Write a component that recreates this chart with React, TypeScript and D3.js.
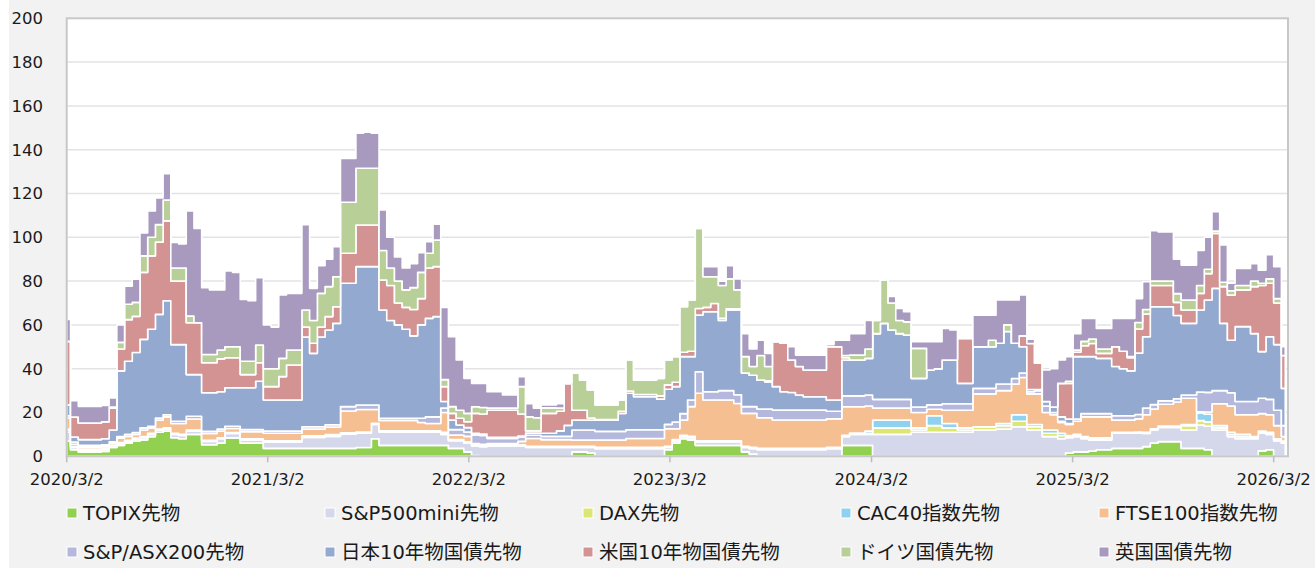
import React, { useEffect, useRef } from "react";
import * as d3 from "d3";

// biweekly observations starting 2020/3/2
const startDate = new Date(2020, 2, 2);
const stepDays = 14;

const seriesNames = [
  "TOPIX先物",
  "S&P500mini先物",
  "DAX先物",
  "CAC40指数先物",
  "FTSE100指数先物",
  "S&P/ASX200先物",
  "日本10年物国債先物",
  "米国10年物国債先物",
  "ドイツ国債先物",
  "英国国債先物",
];

const seriesColors = [
  "#92d050",
  "#d5d7ea",
  "#dce773",
  "#8fd2ef",
  "#f6bf91",
  "#b4b8dc",
  "#93a9d0",
  "#d39393",
  "#b9cf98",
  "#a899bf",
];

const topix = [
  7, 3, 2, 2, 2, 2.2, 4, 5, 6, 7,
  7.5, 9, 11, 11.5, 8.5, 8, 10, 10, 5.3, 5.3,
  6, 8.4, 8.4, 6, 6, 6, 3.6, 3.6, 3.6, 3.6,
  3.6, 3.6, 3.6, 3.6, 3.6, 3.6, 3.6, 3.6, 4, 4,
  8, 5, 5, 5, 5, 5, 5, 5, 5, 5,
  3.6, 3.6, 2, 0.3, 0, 0, 0, 0, 0, 0,
  0, 0, 0, 0, 0, 0, 2, 2, 1.5, 0,
  0, 0, 0, 0, 0, 0, 0, 0, 3, 6,
  8, 7.5, 5, 5, 5, 5, 5, 5, 2, 1,
  0, 0, 0, 0, 0, 0, 0, 0, 0, 0,
  0, 5, 5, 5, 5, 0, 0, 0, 0, 0,
  0, 0, 0, 0, 0, 0, 0, 0, 0, 0,
  0, 0, 0, 0, 0, 0, 0, 0, 0, 0,
  1.5, 2, 2, 2.4, 3, 3, 3.6, 3.6, 3.6, 3.6,
  4.4, 6, 6.7, 6.7, 6.7, 3.6, 3.6, 3.6, 3, 0,
  0, 0, 0, 0, 0, 2.5, 3, 0, 0,
];

const sp500mini = [
  4, 1, 0.8, 0.8, 0.8, 0.8, 0.8, 0.8, 0.8, 0.8,
  1, 1, 1, 1, 1.5, 1.5, 1.5, 1.5, 1.5, 1.5,
  2, 2, 2, 1.5, 1.5, 1.5, 3, 3, 3, 3,
  3, 5, 5, 5, 5.5, 5.5, 6.5, 6.5, 6.5, 6.5,
  6.5, 6, 6, 6, 6, 6, 6, 6, 6, 5,
  3.5, 3.5, 4, 4.4, 4.4, 4.7, 4.7, 4.7, 4.7, 4.7,
  4, 4, 4, 4, 4, 4, 2, 2, 2.5, 3.5,
  3.5, 3.5, 3.5, 3.5, 3.5, 3.5, 3.5, 3.5, 1, 1,
  1, 1, 1.5, 1.5, 1.5, 1.5, 1.5, 1.5, 2, 2.5,
  3, 3, 3, 3, 3, 3, 3, 3, 3, 3.5,
  3.5, 4, 5, 5, 5, 10, 10, 10, 10, 10,
  11, 11, 11, 11, 11, 11, 11, 11, 12, 12,
  12, 12.5, 12.5, 13.5, 13.5, 12, 12, 9, 9, 8,
  7, 7, 6, 5, 4.4, 4.4, 6.9, 6.9, 6.9, 7,
  6, 6, 6.5, 6.5, 6.5, 8.4, 8.4, 10.7, 10.7, 12,
  12, 9, 8, 8, 8, 8, 7, 7, 6,
];

const dax = [
  1, 0.3, 0.3, 0.3, 0.3, 0.3, 0.2, 0.3, 0.3, 0.3,
  0.3, 0.3, 0.3, 0.3, 0.3, 0.3, 0.3, 0.3, 0.3, 0.3,
  0.3, 0.3, 0.3, 0.3, 0.3, 0.3, 0.3, 0.3, 0.3, 0.3,
  0.3, 0.3, 0.3, 0.3, 0.3, 0.3, 0.3, 0.3, 0.3, 0.3,
  0.3, 0.3, 0.3, 0.3, 0.3, 0.3, 0.3, 0.3, 0.3, 0.5,
  0.3, 0.3, 0.3, 0.3, 0.3, 0.3, 0.3, 0.3, 0.3, 0.3,
  0.3, 0.3, 0.3, 0.3, 0.3, 0.3, 0.3, 0.3, 0.3, 0.3,
  0.3, 0.3, 0.3, 0.3, 0.3, 0.3, 0.3, 0.3, 0.3, 0.3,
  0.3, 0.3, 0.3, 0.3, 0.3, 0.3, 0.3, 0.3, 0.3, 0.3,
  0.3, 0.3, 0.3, 0.3, 0.3, 0.3, 0.3, 0.3, 0.3, 0.3,
  0.3, 0.3, 0.3, 0.3, 0.5, 3, 3, 3, 3, 3,
  1, 1, 3, 3, 2, 2, 1, 1, 1.5, 1.5,
  1.5, 1.5, 1.5, 2.5, 2.5, 1.5, 1.5, 1.5, 1.5, 1.5,
  0.5, 0.5, 0.5, 0.5, 0.5, 0.5, 0.3, 0.3, 0.3, 0.3,
  0.3, 0.3, 0.3, 0.3, 0.3, 2, 2, 2, 2, 1,
  1, 1, 1, 1, 0.5, 0.5, 0.5, 0.5, 0.5,
];

const cac40 = [
  0.5, 0.2, 0.2, 0.2, 0.2, 0.2, 0.1, 0.2, 0.2, 0.2,
  0.2, 0.2, 0.2, 0.2, 0.2, 0.2, 0.2, 0.2, 0.2, 0.2,
  0.2, 0.2, 0.2, 0.2, 0.2, 0.2, 0.2, 0.2, 0.2, 0.2,
  0.2, 0.5, 0.5, 0.5, 0.5, 0.5, 0.3, 0.3, 0.3, 0.3,
  0.3, 0.3, 0.3, 0.3, 0.3, 0.3, 0.3, 0.3, 0.3, 0.5,
  0.3, 0.3, 0.3, 0.3, 0.3, 0.3, 0.3, 0.3, 0.3, 0.3,
  0.3, 0.3, 0.3, 0.3, 0.3, 0.3, 0.3, 0.3, 0.3, 0.3,
  0.3, 0.3, 0.3, 0.3, 0.3, 0.3, 0.3, 0.3, 0.3, 0.3,
  0.3, 0.3, 0.3, 0.3, 0.3, 0.3, 0.3, 0.3, 0.3, 0.3,
  0.3, 0.3, 0.3, 0.3, 0.3, 0.3, 0.3, 0.3, 0.3, 0.3,
  0.3, 0.3, 0.3, 0.3, 1, 3.5, 3.5, 3.5, 3.5, 3.5,
  1, 1, 4.5, 4.5, 2, 2, 1, 1, 0, 0,
  0, 1, 1, 3, 3, 1, 1, 1.5, 1.5, 1,
  0.5, 0.5, 0.5, 0.5, 0.5, 0.5, 0.2, 0.2, 0.2, 0.2,
  0.3, 0.3, 0.3, 0.3, 0.3, 0.5, 0.5, 3.5, 3.5, 1,
  1, 1, 1, 1, 0.5, 0.5, 0.5, 0.5, 0.5,
];

const ftse100 = [
  5, 1, 0.9, 0.9, 0.9, 0.9, 1, 2, 1.8, 1.7,
  3, 2.5, 4, 5, 4.5, 5, 5, 5, 3.1, 3.1,
  3, 1.8, 1.8, 3.2, 3.2, 3.2, 3.4, 3.4, 3.4, 3.4,
  3.4, 3, 3, 3, 3.5, 3.5, 10, 10, 10.3, 10.3,
  6.3, 4.8, 4.8, 4.8, 4.8, 4.8, 3.8, 3.4, 3.4, 9,
  2, 2, 2.5, 0.5, 0.5, 0.5, 0.5, 0.5, 0.5, 1.5,
  3.5, 3.5, 3, 3, 3, 3, 2.8, 2.8, 2.8, 3.3,
  3.3, 3.3, 3.3, 4, 4, 4, 4, 4, 8, 5,
  6.9, 13.6, 21.7, 18.6, 18.6, 18.6, 18.6, 17, 15, 15.5,
  14, 14, 13, 13, 13, 13, 13, 13, 13, 13,
  13, 13, 12, 12, 11.5, 5.5, 5.5, 5.5, 5.5, 5.5,
  7, 7, 3, 3, 6, 6, 8, 8, 15, 15,
  15, 15, 15, 14, 17, 14, 14, 8, 7, 5,
  5, 6, 9, 9.6, 9.6, 9.6, 5.5, 5.5, 5.5, 6,
  8, 9, 10, 10, 11, 12, 12, 0.5, 1, 10,
  10, 12, 9, 9, 10, 8, 8, 6, 2,
];

const asx200 = [
  1, 1, 0.8, 0.8, 0.8, 0.8, 0.5, 0.7, 0.9, 0.9,
  1, 0.7, 1, 1, 1, 1, 1.3, 1.3, 1, 1,
  1, 1, 1, 1, 1, 1, 1, 1, 1, 1,
  1, 1.1, 1.1, 1.1, 1, 1, 2, 2, 2, 2,
  2, 1, 1, 1, 1, 1, 2, 3, 3, 2,
  2.5, 2.5, 2, 4, 4, 2.4, 2.4, 2.4, 2.4, 2,
  1.5, 1.5, 1.5, 1.5, 1.5, 1.5, 4.6, 4.6, 4.6, 4,
  4, 4, 4, 4, 4, 4, 4, 4, 2, 3,
  3, 3, 9.8, 3.8, 3.8, 4.3, 4.3, 4, 3.1, 3.1,
  4, 4, 4.5, 4.5, 4.5, 4.5, 4.5, 4.5, 4.5, 3.5,
  3.5, 5, 5, 5, 5, 4, 4, 4, 4, 4,
  2.5, 2.5, 2, 2, 3, 3, 3, 3, 2.5, 2.5,
  2.5, 3, 3, 2.5, 2, 1, 1.5, 3, 1, 0.5,
  0.5, 1, 1.5, 1.5, 1.5, 1.5, 2, 2, 2, 2,
  3, 2, 1.5, 1.5, 1.5, 1.5, 1.5, 9, 9, 6,
  6, 6, 6, 6, 6, 7, 7, 7, 5,
];

const jgb10y = [
  5, 2.3, 2.6, 2.6, 2.6, 2.8, 5.4, 30, 33.4, 36.5,
  40.4, 44.3, 47.3, 52, 35, 35, 19, 19, 17.6, 17.6,
  17, 17.6, 17.6, 19.1, 19.1, 22.1, 14.2, 14.2, 14.2, 14.2,
  14.2, 41, 33.5, 41, 43.3, 46.3, 56.3, 56.3, 63.2, 63.2,
  63.2, 49.4, 44.6, 42.6, 40.6, 37.6, 42.6, 45, 45.8, 3,
  4.4, 2.1, 2, 0.7, 0.7, 0.5, 0.5, 0.5, 0.5, 0.5,
  1, 1, 1.4, 1.4, 2.5, 5, 4.5, 4.5, 4.5, 5.1,
  5.1, 5.1, 8.2, 16.7, 15.1, 15.1, 15.1, 14, 16, 16.2,
  26, 19.8, 25.9, 36.5, 36.5, 32, 36.8, 38.7, 15.3, 14.3,
  13.2, 12.4, 10.7, 8.4, 8, 6.9, 6.1, 6.1, 6.1, 5.1,
  5.1, 16.4, 16.4, 16.4, 16.7, 30, 34.7, 31.7, 30, 29.4,
  13.1, 13.1, 15.9, 16.5, 20, 20, 9.3, 9.3, 19, 19,
  19, 18.6, 24, 16.1, 12, 1, 0.5, 2, 2.5, 2,
  2, 28.5, 26, 26, 25.2, 25.2, 22.5, 21.5, 20.5, 28,
  32.6, 44.7, 43, 43, 38, 32.7, 32.7, 37.5, 42.2, 46.7,
  30.7, 24, 34.2, 34.2, 31, 21.3, 28.6, 30, 17,
];

const ust10y = [
  29, 9.1, 7.6, 7.6, 7.6, 7.8, 10, 10, 19, 16.5,
  30.6, 33.5, 33, 36.5, 29, 29, 23.7, 23.7, 13.7, 13.7,
  15, 13.7, 13.7, 6, 6, 8.4, 6.1, 6.1, 10.7, 16,
  16, 4.5, 4.6, 4.5, 6.1, 7.6, 13.7, 13.7, 19, 19,
  19, 13.7, 16, 10, 10, 12, 12, 23, 22.8, 6.8,
  3, 3.1, 2.7, 9.1, 9.1, 12.3, 12.3, 12.3, 12.3, 10,
  1, 1, 9.1, 9.1, 9, 19, 4.5, 4.5, 1, 0.3,
  0.3, 0.3, 1, 1, 1, 1, 1, 1.5, 2, 2,
  2, 2.5, 3, 2, 3.8, 1, 0.5, 0.5, 0, 0,
  0, 0.5, 20.5, 22.1, 14.9, 13, 12.2, 12.2, 12.2, 24.3,
  24.3, 1, 0, 0, 0, 0, 0, 0, 0, 0,
  0, 0, 0, 0, 0, 0, 20.5, 20.5, 0, 0,
  0, 0, 0, 0, 5, 21, 12, 0, 0, 15.3,
  16.3, 2, 5, 6, 2.3, 2.3, 9, 8, 6, 11,
  10.4, 9.7, 9.7, 9.7, 6, 6.1, 6.1, 7.6, 12, 25.1,
  16.8, 20.6, 16.8, 16.8, 21.5, 30.2, 24.4, 19, 15,
];

const bund = [
  0, 0, 0, 0, 0, 0, 0.5, 3, 7, 6.4,
  7.5, 8.5, 8, 9.5, 6, 6, 3, 0, 3.8, 3.8,
  4, 5, 5, 6.1, 6.1, 8.1, 8.2, 8.2, 8.3, 6.8,
  6.8, 7.8, 10.4, 15.4, 13.7, 13.7, 23.3, 23.3, 25.9, 25.9,
  25.9, 13.5, 8, 10, 8, 10, 12, 6.7, 12.2, 3.2,
  3.1, 3.6, 3.8, 3, 3, 1, 1, 1, 1, 12.5,
  6.4, 6, 2.5, 2.5, 1.4, 0.5, 16.9, 13.8, 12.8, 6.6,
  6.6, 6.6, 5.1, 14.2, 6.6, 6.6, 6.6, 8, 11.4, 11.7,
  20.8, 23.4, 36.5, 14, 12.2, 15, 13.7, 8.7, 7.5, 4,
  11.2, 6.5, 0, 0, 0, 0, 0, 0, 0, 0,
  0, 1, 2.2, 2.2, 4.3, 6, 19.8, 12.3, 6, 6,
  13.7, 13.7, 0, 0, 0, 0, 0, 0, 0, 0,
  3, 0, 3, 0, 0, 0, 0, 0, 0, 0,
  1, 1, 2, 2, 2, 2, 0, 0, 0.5, 3,
  2, 2, 2, 2, 4, 4.6, 4.6, 3.6, 2, 1,
  2, 2, 2, 2, 2.5, 1, 2, 2, 0,
];

const gilt = [
  10, 7.5, 7.6, 7.6, 7.6, 7.4, 4.2, 8, 8.3, 10.6,
  10.5, 12, 12.2, 12, 11.6, 11, 48, 43, 30.5, 29.5,
  27.5, 34.6, 34, 28.2, 27.6, 30.7, 20, 19, 29, 25.9,
  25.9, 39, 14.7, 12.6, 12.5, 13.7, 20, 20, 16, 16.5,
  16, 18.5, 14, 11, 10, 11, 9, 5.3, 7.2, 33,
  31.9, 23, 16, 10.7, 11, 7.5, 7.5, 6, 6, 4.5,
  6, 4.4, 1.3, 1.3, 2, 0, 0.3, 0, 0, 0,
  0, 0, 0, 0, 0, 0, 0, 0, 0, 0,
  0, 0, 0, 4.6, 4.6, 2, 6, 5, 10.5, 8,
  7, 6, 0, 0, 6, 5.2, 6.8, 6.8, 6.8, 1,
  3, 7, 9.8, 9.8, 13, 0, 0, 3, 5.5, 4.6,
  3, 3, 12.9, 12.3, 14.4, 13.7, 0, 0, 14.4, 14.4,
  11.4, 19.8, 11.4, 19.8, 18.7, 2, 0.5, 14.4, 17.5, 10.7,
  11.2, 7.5, 10.5, 9.5, 9.4, 9.4, 13, 15, 17.5, 10.9,
  12.7, 23, 22.5, 22.5, 15.7, 15.9, 15.9, 16, 14.6, 8.9,
  17, 3.4, 7.8, 7.8, 8, 6, 11, 14.6, 4,
];

const seriesValues = [topix, sp500mini, dax, cac40, ftse100, asx200, jgb10y, ust10y, bund, gilt];

const yTicks = [0, 20, 40, 60, 80, 100, 120, 140, 160, 180, 200];
const xTickYears = [2020, 2021, 2022, 2023, 2024, 2025, 2026];

const FONT = "'DejaVu Sans', Verdana, 'Noto Sans CJK JP', sans-serif";

const App = () => {
  const svgRef = useRef<SVGSVGElement>(null);

  useEffect(() => {
    const width = 1315;
    const height = 568;
    const left = 66.7;
    const right = 1288;
    const top = 18.3;
    const bottom = 456.3;

    const svg = d3.select(svgRef.current);
    svg.selectAll("*").remove();

    const dates = topix.map((_, i) => d3.timeDay.offset(startDate, i * stepDays));
    const rows = dates.map((date, i) => {
      const r: any = { date };
      seriesNames.forEach((name, k) => (r[name] = seriesValues[k][i]));
      return r;
    });

    const x = d3
      .scaleTime()
      .domain([startDate, d3.timeDay.offset(dates[dates.length - 1], 5)])
      .range([left, right]);
    const y = d3.scaleLinear().domain([0, 200]).range([bottom, top]);

    const stacked = d3.stack().keys(seriesNames)(rows);

    // background
    svg.append("rect").attr("x", 0).attr("y", 0).attr("width", width).attr("height", height).attr("fill", "#fff");
    svg.append("rect").attr("x", 9).attr("y", 0).attr("width", width - 9).attr("height", height).attr("fill", "#f2f2f2");
    svg
      .append("rect")
      .attr("x", left)
      .attr("y", top)
      .attr("width", right - left)
      .attr("height", bottom - top)
      .attr("fill", "#fff");

    // gridlines
    svg
      .append("g")
      .selectAll("line")
      .data(yTicks.filter((t) => t > 0 && t < 200))
      .join("line")
      .attr("x1", left)
      .attr("x2", right)
      .attr("y1", (d) => y(d))
      .attr("y2", (d) => y(d))
      .attr("stroke", "#e3e3e3")
      .attr("stroke-width", 1.5);

    const area = d3
      .area<any>()
      .x((d) => x(d.data.date))
      .y0((d) => y(d[0]))
      .y1((d) => y(d[1]))
      .curve(d3.curveStep);

    svg
      .append("g")
      .selectAll("path")
      .data(stacked)
      .join("path")
      .attr("d", area as any)
      .attr("fill", (_, i) => seriesColors[i])
      .attr("stroke", "#fff")
      .attr("stroke-width", 1.6)
      .attr("stroke-linejoin", "round");

    // plot frame
    svg
      .append("rect")
      .attr("x", left)
      .attr("y", top)
      .attr("width", right - left)
      .attr("height", bottom - top)
      .attr("fill", "none")
      .attr("stroke", "#c8c8c8")
      .attr("stroke-width", 2);

    // y labels
    svg
      .append("g")
      .selectAll("text")
      .data(yTicks)
      .join("text")
      .attr("x", 43)
      .attr("y", (d) => y(d))
      .attr("dy", "0.36em")
      .attr("text-anchor", "end")
      .attr("font-family", FONT)
      .attr("font-size", 16.5)
      .attr("fill", "#1a1a1a")
      .text((d) => d);

    // x ticks and labels
    const xTicks = xTickYears.map((yr) => new Date(yr, 2, 2));
    const gx = svg.append("g");
    gx.selectAll("line")
      .data(xTicks)
      .join("line")
      .attr("x1", (d) => x(d))
      .attr("x2", (d) => x(d))
      .attr("y1", bottom)
      .attr("y2", bottom + 6)
      .attr("stroke", "#bdbdbd")
      .attr("stroke-width", 1.5);
    gx.selectAll("text")
      .data(xTicks)
      .join("text")
      .attr("x", (d) => x(d))
      .attr("y", 485)
      .attr("text-anchor", "middle")
      .attr("font-family", FONT)
      .attr("font-size", 16.5)
      .attr("fill", "#1a1a1a")
      .text((d) => `${d.getFullYear()}/${d.getMonth() + 1}/${d.getDate()}`);

    // legend
    const legend = svg
      .append("g")
      .selectAll("g")
      .data(seriesNames)
      .join("g")
      .attr("transform", (_, i) => `translate(${67 + 258 * (i % 5)},${i < 5 ? 513 : 552})`);
    legend
      .append("rect")
      .attr("x", 0)
      .attr("y", -5)
      .attr("width", 10)
      .attr("height", 10)
      .attr("fill", (_, i) => seriesColors[i])
      .attr("stroke", "#fff")
      .attr("stroke-width", 1);
    legend
      .append("text")
      .attr("x", 16)
      .attr("y", 0)
      .attr("dy", "0.36em")
      .attr("font-family", FONT)
      .attr("font-size", 19.5)
      .attr("fill", "#1a1a1a")
      .text((d) => d);
  }, []);

  return (
    <svg
      ref={svgRef}
      width={1315}
      height={568}
      style={{ position: "absolute", left: 0, top: 0, display: "block" }}
    />
  );
};

export default App;
